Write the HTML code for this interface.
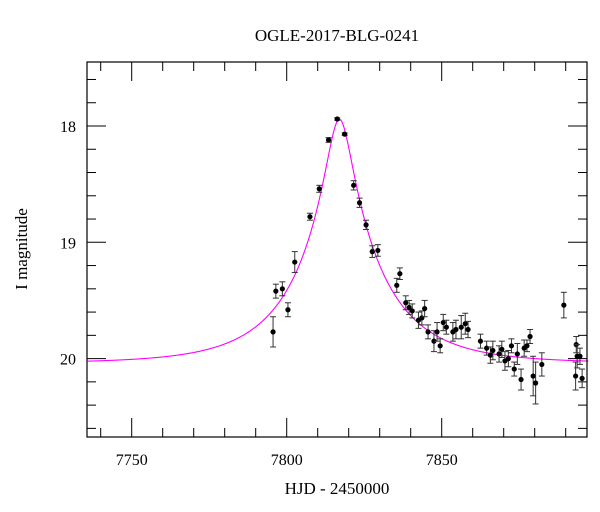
<!DOCTYPE html>
<html><head><meta charset="utf-8"><style>
html,body{margin:0;padding:0;background:#fff;}
svg{display:block;font-family:"Liberation Serif",serif;}
</style></head><body>
<svg id="chart" width="600" height="512" viewBox="0 0 600 512" xmlns="http://www.w3.org/2000/svg">
<text x="337" y="41" font-size="17" text-anchor="middle">OGLE-2017-BLG-0241</text>
<text x="337" y="494" font-size="17" text-anchor="middle">HJD - 2450000</text>
<text transform="translate(27,249) rotate(-90)" font-size="17" text-anchor="middle">I magnitude</text>
<g id="axes"></g>
<g id="model"></g>
<g id="points"></g>
<rect x="87" y="62" width="500" height="375" fill="none" stroke="#000" stroke-width="1.2"/>
</svg>
<script>
const times=[7816.3,7818.7,7813.5,7810.5,7807.5,7802.6,7796.5,7798.6,7795.6,7800.4,7821.6,7823.5,7825.6,7827.6,7829.4,7835.5,7836.5,7838.4,7839.5,7840.5,7842.5,7843.6,7844.5,7845.6,7847.5,7848.5,7849.5,7850.5,7851.5,7853.6,7854.6,7856.3,7857.6,7858.5,7862.5,7864.5,7865.7,7866.5,7868.5,7869.4,7870.4,7871.5,7872.5,7873.4,7874.4,7875.6,7876.6,7877.5,7878.5,7879.5,7880.3,7882.3,7889.4,7893.4,7893.7,7894.6,7893.2,7895.3];
const mags=[17.94,18.07,18.12,18.54,18.78,19.17,19.42,19.40,19.77,19.58,18.51,18.66,18.85,19.08,19.07,19.37,19.27,19.52,19.56,19.59,19.67,19.65,19.57,19.77,19.85,19.77,19.89,19.69,19.73,19.77,19.75,19.73,19.70,19.75,19.85,19.91,19.97,19.93,19.96,19.92,20.02,20.00,19.89,20.09,19.96,20.18,19.91,19.89,19.81,20.15,20.21,20.05,19.54,19.88,19.98,19.98,20.15,20.17];
const errs=[0.01,0.01,0.02,0.03,0.03,0.09,0.06,0.06,0.13,0.06,0.04,0.04,0.04,0.05,0.05,0.06,0.05,0.06,0.06,0.06,0.07,0.06,0.07,0.06,0.09,0.08,0.06,0.07,0.06,0.08,0.08,0.1,0.09,0.07,0.06,0.06,0.07,0.08,0.07,0.07,0.08,0.07,0.06,0.06,0.09,0.09,0.07,0.05,0.06,0.17,0.18,0.1,0.11,0.07,0.1,0.07,0.12,0.08];
const xTicks=[7750,7800,7850];
const yTicks=[18,19,20];
const model={t0:7817.0,tE:27,u0:0.146,base:20.04};
const NS="http://www.w3.org/2000/svg";
const L=87,R=587,T=62,B=437;
const X=t=>131.7+(t-7750)*3.1;
const Y=m=>126+(m-18)*116.3;
function mk(tag,attrs,parent){const e=document.createElementNS(NS,tag);for(const k in attrs)e.setAttribute(k,attrs[k]);parent.appendChild(e);return e;}
const axes=document.getElementById('axes');
// x ticks
for(let t=7740;t<=7890;t+=10){
 const x=X(t);const major=(t%50===0);const len=major?19:9;
 const a=mk('line',{x1:x,y1:B,x2:x,y2:B-len,stroke:'#000','stroke-width':1},axes);
 
 
 const b=mk('line',{x1:x,y1:T,x2:x,y2:T+len,stroke:'#000','stroke-width':1},axes);
 
 
}
xTicks.forEach(t=>{const e=mk('text',{x:X(t),y:465,'font-size':16,'text-anchor':'middle'},axes);e.textContent=t;
 
 });
// y ticks
for(let i=0;i<=16;i++){
 const m=17.6+i*0.2;if(m>20.65)break;const y=Y(m);const major=Math.abs(m-Math.round(m))<1e-6;const len=major?19:9;
 const a=mk('line',{x1:L,y1:y,x2:L+len,y2:y,stroke:'#000','stroke-width':1},axes);
 
 
 const b=mk('line',{x1:R,y1:y,x2:R-len,y2:y,stroke:'#000','stroke-width':1},axes);
 
 
}
yTicks.forEach(m=>{const e=mk('text',{x:76,y:Y(m)+6,'font-size':16,'text-anchor':'end'},axes);e.textContent=m;
 
 });
// model curve
let d='';
for(let t=7735.8;t<=7897.4;t+=0.25){
 const tau=(t-model.t0)/model.tE;const u=Math.sqrt(tau*tau+model.u0*model.u0);
 const A=(u*u+2)/(u*Math.sqrt(u*u+4));const m=model.base-2.5*Math.log10(A);
 d+=(d?'L':'M')+X(t).toFixed(2)+','+Y(m).toFixed(2);
}
const path=mk('path',{d:d,fill:'none',stroke:'#ff00ff','stroke-width':1.1},document.getElementById('model'));


// points
const pg=document.getElementById('points');
times.forEach((t,i)=>{
 const x=X(t),y=Y(mags[i]),e=errs[i]*116.3;
 const g=mk('g',{},pg);
 
 
 mk('line',{x1:x,y1:y-e,x2:x,y2:y+e,stroke:'#333','stroke-width':1},g);
 mk('line',{x1:x-3,y1:y-e,x2:x+3,y2:y-e,stroke:'#333','stroke-width':1},g);
 mk('line',{x1:x-3,y1:y+e,x2:x+3,y2:y+e,stroke:'#333','stroke-width':1},g);
 mk('circle',{cx:x,cy:y,r:2.6,fill:'#000'},g);
});
</script>
</body></html>
